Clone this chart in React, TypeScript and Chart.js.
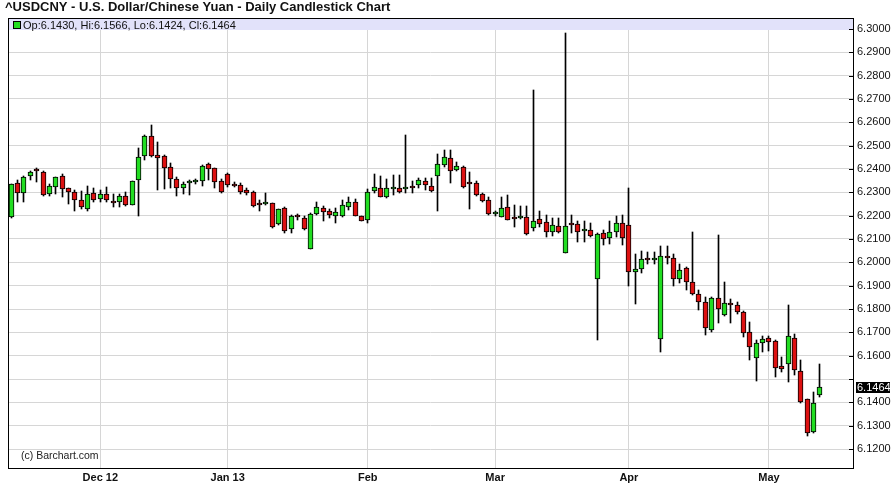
import React, { useEffect, useRef } from 'react';
import { Chart, registerables } from 'chart.js';

Chart.register(...registerables);

const TITLE = '^USDCNY - U.S. Dollar/Chinese Yuan - Daily Candlestick Chart';
const COPYRIGHT = '(c) Barchart.com';

const opens = [
  6.2193, 6.2339, 6.2296, 6.2369, 6.2399, 6.2388, 6.2294, 6.2323, 6.2369, 6.2317,
  6.2303, 6.2268, 6.2230, 6.2298, 6.2270, 6.2292, 6.2262, 6.2257, 6.2284, 6.2247,
  6.2352, 6.2457, 6.2543, 6.2459, 6.2456, 6.2407, 6.2356, 6.2320, 6.2339, 6.2343,
  6.2347, 6.2420, 6.2403, 6.2350, 6.2379, 6.2334, 6.2331, 6.2310, 6.2300, 6.2249,
  6.2252, 6.2253, 6.2164, 6.2232, 6.2142, 6.2203, 6.2189, 6.2057, 6.2206, 6.2232,
  6.2219, 6.2197, 6.2197, 6.2238, 6.2257, 6.2197, 6.2181, 6.2307, 6.2317, 6.2281,
  6.2313, 6.2320, 6.2313, 6.2326, 6.2330, 6.2349, 6.2327, 6.2371, 6.2416, 6.2446,
  6.2396, 6.2407, 6.2344, 6.2339, 6.2292, 6.2267, 6.2206, 6.2196, 6.2236, 6.2189,
  6.2190, 6.2193, 6.2146, 6.2184, 6.2174, 6.2129, 6.2154, 6.2041, 6.2164, 6.2163,
  6.2133, 6.2140, 6.1927, 6.2124, 6.2103, 6.2130, 6.2167, 6.2159, 6.1957, 6.1970,
  6.2013, 6.2010, 6.1670, 6.2027, 6.2017, 6.1927, 6.1974, 6.1917, 6.1863, 6.1829,
  6.1710, 6.1846, 6.1774, 6.1826, 6.1816, 6.1786, 6.1700, 6.1589, 6.1653, 6.1674,
  6.1662, 6.1556, 6.1563, 6.1674, 6.1534, 6.1413, 6.1271, 6.1430,
];

const highs = [
  6.2336, 6.2352, 6.2368, 6.2390, 6.2406, 6.2390, 6.2334, 6.2367, 6.2377, 6.2320,
  6.2309, 6.2306, 6.2327, 6.2317, 6.2309, 6.2322, 6.2292, 6.2293, 6.2303, 6.2350,
  6.2489, 6.2545, 6.2589, 6.2514, 6.2460, 6.2424, 6.2366, 6.2346, 6.2353, 6.2356,
  6.2416, 6.2424, 6.2405, 6.2356, 6.2384, 6.2346, 6.2340, 6.2318, 6.2305, 6.2267,
  6.2298, 6.2256, 6.2230, 6.2236, 6.2203, 6.2208, 6.2197, 6.2210, 6.2260, 6.2241,
  6.2229, 6.2232, 6.2267, 6.2279, 6.2271, 6.2199, 6.2313, 6.2379, 6.2370, 6.2356,
  6.2373, 6.2373, 6.2546, 6.2350, 6.2362, 6.2360, 6.2360, 6.2464, 6.2481, 6.2481,
  6.2430, 6.2414, 6.2388, 6.2350, 6.2295, 6.2280, 6.2220, 6.2281, 6.2289, 6.2246,
  6.2241, 6.2240, 6.2739, 6.2221, 6.2201, 6.2191, 6.2190, 6.2982, 6.2203, 6.2176,
  6.2176, 6.2169, 6.2124, 6.2139, 6.2177, 6.2199, 6.2203, 6.2317, 6.2036, 6.2050,
  6.2046, 6.2046, 6.2070, 6.2070, 6.2036, 6.1991, 6.1980, 6.2131, 6.1880, 6.1852,
  6.1853, 6.2117, 6.1914, 6.1842, 6.1828, 6.1790, 6.1744, 6.1667, 6.1684, 6.1684,
  6.1666, 6.1593, 6.1817, 6.1693, 6.1581, 6.1416, 6.1443, 6.1566,
];

const lows = [
  6.2190, 6.2257, 6.2260, 6.2352, 6.2346, 6.2285, 6.2286, 6.2294, 6.2279, 6.2251,
  6.2220, 6.2229, 6.2221, 6.2260, 6.2260, 6.2257, 6.2238, 6.2238, 6.2242, 6.2245,
  6.2200, 6.2439, 6.2450, 6.2311, 6.2314, 6.2317, 6.2283, 6.2292, 6.2289, 6.2334,
  6.2328, 6.2353, 6.2317, 6.2298, 6.2323, 6.2322, 6.2294, 6.2288, 6.2236, 6.2221,
  6.2246, 6.2146, 6.2160, 6.2127, 6.2124, 6.2181, 6.2140, 6.2055, 6.2203, 6.2178,
  6.2192, 6.2170, 6.2195, 6.2224, 6.2197, 6.2175, 6.2167, 6.2296, 6.2278, 6.2275,
  6.2289, 6.2295, 6.2298, 6.2298, 6.2320, 6.2311, 6.2300, 6.2221, 6.2410, 6.2341,
  6.2390, 6.2320, 6.2227, 6.2285, 6.2260, 6.2203, 6.2200, 6.2193, 6.2180, 6.2153,
  6.2184, 6.2119, 6.2136, 6.2150, 6.2107, 6.2111, 6.2125, 6.2038, 6.2124, 6.2088,
  6.2089, 6.2107, 6.1667, 6.2074, 6.2079, 6.2107, 6.2074, 6.1900, 6.1821, 6.1953,
  6.1994, 6.1993, 6.1617, 6.1994, 6.1899, 6.1910, 6.1881, 6.1860, 6.1796, 6.1689,
  6.1703, 6.1739, 6.1770, 6.1741, 6.1780, 6.1679, 6.1581, 6.1490, 6.1617, 6.1619,
  6.1510, 6.1529, 6.1488, 6.1517, 6.1396, 6.1256, 6.1268, 6.1424,
];

const closes = [
  6.2334, 6.2296, 6.2364, 6.2388, 6.2390, 6.2287, 6.2326, 6.2364, 6.2313, 6.2300,
  6.2266, 6.2237, 6.2294, 6.2266, 6.2294, 6.2266, 6.2253, 6.2283, 6.2244, 6.2347,
  6.2450, 6.2540, 6.2457, 6.2448, 6.2403, 6.2356, 6.2320, 6.2337, 6.2340, 6.2346,
  6.2414, 6.2399, 6.2346, 6.2303, 6.2330, 6.2327, 6.2303, 6.2296, 6.2240, 6.2247,
  6.2254, 6.2153, 6.2227, 6.2136, 6.2199, 6.2193, 6.2142, 6.2206, 6.2236, 6.2216,
  6.2202, 6.2214, 6.2244, 6.2259, 6.2199, 6.2178, 6.2303, 6.2322, 6.2281, 6.2317,
  6.2322, 6.2303, 6.2320, 6.2317, 6.2353, 6.2330, 6.2307, 6.2420, 6.2450, 6.2391,
  6.2413, 6.2324, 6.2336, 6.2290, 6.2264, 6.2206, 6.2217, 6.2232, 6.2181, 6.2186,
  6.2199, 6.2121, 6.2178, 6.2164, 6.2131, 6.2159, 6.2131, 6.2157, 6.2161, 6.2129,
  6.2143, 6.2113, 6.2120, 6.2099, 6.2130, 6.2167, 6.2103, 6.1957, 6.1970, 6.2016,
  6.2010, 6.2013, 6.2027, 6.2019, 6.1927, 6.1967, 6.1917, 6.1863, 6.1829, 6.1717,
  6.1846, 6.1799, 6.1824, 6.1816, 6.1787, 6.1696, 6.1636, 6.1656, 6.1670, 6.1657,
  6.1546, 6.1542, 6.1684, 6.1538, 6.1403, 6.1270, 6.1396, 6.1464,
];

const monthTickIndex = [14, 34, 56, 76, 97, 119];
const monthTickLabels = ['Dec 12', 'Jan 13', 'Feb', 'Mar', 'Apr', 'May'];
const priceTicks = [
  6.12, 6.13, 6.14, 6.15, 6.16, 6.17, 6.18, 6.19, 6.2, 6.21,
  6.22, 6.23, 6.24, 6.25, 6.26, 6.27, 6.28, 6.29, 6.3,
];

const FONT = "'Liberation Sans', Arial, Helvetica, sans-serif";
const GREEN = '#22dd22';
const RED = '#dd1111';

export default function App() {
  const canvasRef = useRef<HTMLCanvasElement | null>(null);

  useEffect(() => {
    const canvas = canvasRef.current;
    if (!canvas) return;
    const last = closes.length - 1;

    const snapPlugin = {
      id: 'snapBars',
      beforeDatasetsDraw(chart: any) {
        chart.data.datasets.forEach((_: any, di: number) => {
          const meta = chart.getDatasetMeta(di);
          meta.data.forEach((el: any) => {
            el.x = Math.floor(el.x) + 0.5;
            el.y = Math.round(el.y);
            el.base = Math.round(el.base);
          });
        });
      },
    };

    const decoPlugin = {
      id: 'deco',
      beforeDatasetsDraw(chart: any) {
        const { ctx, chartArea } = chart;
        const yTop = Math.round(chart.scales.y.getPixelForValue(6.3));
        ctx.save();
        ctx.fillStyle = '#e2e2fa';
        ctx.fillRect(chartArea.left, chartArea.top, chartArea.right - chartArea.left, yTop - chartArea.top + 1);
        ctx.restore();
      },
      afterDraw(chart: any) {
        const { ctx, chartArea } = chart;
        const ys = chart.scales.y;
        ctx.save();
        ctx.strokeStyle = '#000';
        ctx.lineWidth = 1;
        ctx.strokeRect(chartArea.left + 0.5, chartArea.top + 0.5, chartArea.right - chartArea.left, chartArea.bottom - chartArea.top);
        ys.ticks.forEach((t: any) => {
          const py = Math.round(ys.getPixelForValue(t.value)) + 0.5;
          ctx.beginPath();
          ctx.moveTo(chartArea.right - 4, py);
          ctx.lineTo(chartArea.right, py);
          ctx.stroke();
        });
        ctx.fillStyle = '#111';
        ctx.font = `bold 13px ${FONT}`;
        ctx.textBaseline = 'alphabetic';
        ctx.textAlign = 'left';
        ctx.fillText(TITLE, 5, 11);
        ctx.fillStyle = GREEN;
        ctx.fillRect(13, 21, 8, 8);
        ctx.strokeStyle = '#000';
        ctx.strokeRect(13.5, 21.5, 7, 7);
        ctx.fillStyle = '#111';
        ctx.font = `11px ${FONT}`;
        ctx.textBaseline = 'middle';
        const legend = `Op:${opens[last].toFixed(4)}, Hi:${highs[last].toFixed(4)}, Lo:${lows[last].toFixed(4)}, Cl:${closes[last].toFixed(4)}`;
        ctx.fillText(legend, 23, 25.5);
        ctx.font = `10.5px ${FONT}`;
        ctx.fillStyle = '#222';
        ctx.fillText(COPYRIGHT, 21, 456);
        const py = Math.round(ys.getPixelForValue(closes[last]));
        ctx.fillStyle = '#000';
        ctx.fillRect(chartArea.right + 3, py - 5, 34, 11);
        ctx.fillStyle = '#fff';
        ctx.font = `11px ${FONT}`;
        ctx.fillText(closes[last].toFixed(4), chartArea.right + 4, py + 0.5);
        ctx.restore();
      },
    };

    const bodyColors = closes.map((c, i) => (c >= opens[i] ? GREEN : RED));

    const chart = new Chart(canvas, {
      type: 'bar',
      data: {
        datasets: [
          {
            label: 'body',
            data: opens.map((o, i) => ({ x: i, y: [o, closes[i]] })) as any,
            backgroundColor: bodyColors,
            borderColor: '#000',
            borderWidth: 1,
            borderSkipped: false,
            barThickness: 5,
            minBarLength: 2,
            grouped: false,
            order: 0,
          } as any,
          {
            label: 'wick',
            data: lows.map((l, i) => ({ x: i, y: [l, highs[i]] })) as any,
            backgroundColor: '#000',
            borderWidth: 0,
            barThickness: 1,
            grouped: false,
            order: 1,
          } as any,
        ],
      },
      options: {
        responsive: false,
        animation: false,
        devicePixelRatio: 1,
        layout: { padding: { left: 8, top: 18, right: 0, bottom: 0 } },
        plugins: {
          legend: { display: false },
          title: { display: false },
          tooltip: { enabled: false },
        },
        scales: {
          x: {
            type: 'linear',
            min: -0.5,
            max: 132.2,
            offset: false,
            grid: { color: '#d6d6d6', lineWidth: 1, drawTicks: false, offset: false },
            border: { display: true, color: '#000' },
            afterBuildTicks: (scale: any) => {
              scale.ticks = monthTickIndex.map((v) => ({ value: v }));
            },
            afterFit: (scale: any) => {
              scale.height = 35;
            },
            ticks: {
              autoSkip: false,
              maxRotation: 0,
              padding: 3,
              color: '#111',
              font: { family: FONT, size: 11, weight: 'bold' },
              callback: (v: any) => {
                const k = monthTickIndex.indexOf(Number(v));
                return k >= 0 ? monthTickLabels[k] : '';
              },
            },
          },
          y: {
            type: 'linear',
            position: 'right',
            min: 6.11186,
            max: 6.30471,
            grid: { color: '#d6d6d6', lineWidth: 1, drawTicks: false },
            border: { display: true, color: '#000' },
            afterBuildTicks: (scale: any) => {
              scale.ticks = priceTicks.map((v) => ({ value: v }));
            },
            afterFit: (scale: any) => {
              scale.width = 43;
            },
            ticks: {
              padding: 4,
              color: '#111',
              font: { family: FONT, size: 11 },
              callback: (v: any) => {
                const n = Number(v);
                if (Math.abs(n - closes[closes.length - 1]) < 0.005) return '';
                return n.toFixed(4);
              },
            },
          },
        },
      } as any,
      plugins: [snapPlugin, decoPlugin],
    });

    return () => chart.destroy();
  }, []);

  return (
    <div style={{ position: 'fixed', left: 0, top: 0, width: 896, height: 503, background: '#fff' }}>
      <canvas ref={canvasRef} width={896} height={503} style={{ display: 'block' }} />
    </div>
  );
}
